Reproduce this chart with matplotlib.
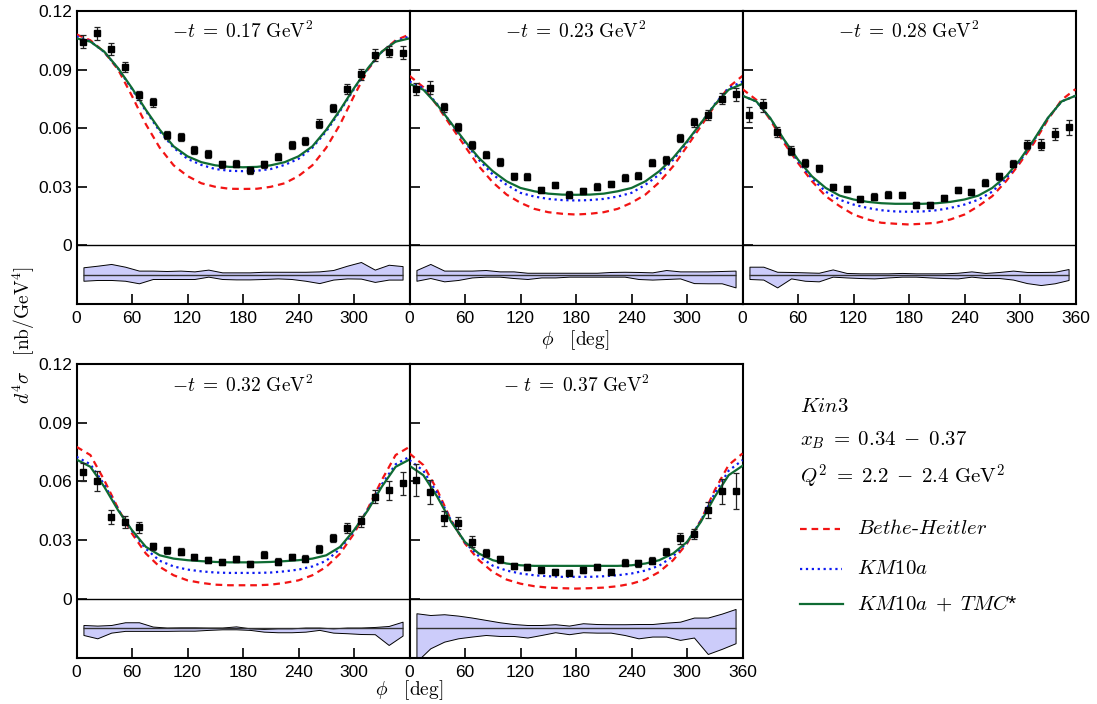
import matplotlib
matplotlib.use("Agg")
import matplotlib.pyplot as plt
import numpy as np

plt.rcParams['mathtext.fontset'] = 'cm'
plt.rcParams['font.family'] = ['Liberation Sans', 'DejaVu Sans']

RED = (0.95, 0.08, 0.08)  # Bethe-Heitler
BLUE = (0.05, 0.1, 0.95)  # KM10a
GREEN = (0.06, 0.42, 0.2)  # KM10a + TMC
BAND = (0.8, 0.8, 0.98)  # systematic band

PHI_DATA = np.arange(7.5, 360, 15)
PHI_CURVE = np.arange(0, 361, 15)
BAND_CENTER = -0.015

T_LABELS = [r"$-t\;=\;0.17\ \mathrm{GeV}^2$", r"$-t\;=\;0.23\ \mathrm{GeV}^2$",
            r"$-t\;=\;0.28\ \mathrm{GeV}^2$", r"$-t\;=\;0.32\ \mathrm{GeV}^2$",
            r"$-\ t\;=\;0.37\ \mathrm{GeV}^2$"]

'''Measured cross sections'''
DATA1 = [0.1043, 0.1086, 0.1004, 0.0912, 0.0768, 0.0732, 0.0567, 0.0557, 0.0490, 0.0470, 0.0415, 0.0419,
         0.0385, 0.0415, 0.0454, 0.0512, 0.0534, 0.0623, 0.0703, 0.0802, 0.0875, 0.0975, 0.0992, 0.0987]
DATA2 = [0.0802, 0.0807, 0.0706, 0.0606, 0.0512, 0.0465, 0.0427, 0.0354, 0.0351, 0.0283, 0.0310, 0.0259,
         0.0278, 0.0300, 0.0315, 0.0346, 0.0357, 0.0424, 0.0437, 0.0548, 0.0630, 0.0669, 0.0752, 0.0773]
DATA3 = [0.0669, 0.0718, 0.0582, 0.0485, 0.0422, 0.0396, 0.0299, 0.0289, 0.0238, 0.0250, 0.0260, 0.0259,
         0.0208, 0.0208, 0.0243, 0.0284, 0.0274, 0.0320, 0.0354, 0.0419, 0.0516, 0.0516, 0.0570, 0.0604]
DATA4 = [0.0646, 0.0602, 0.0419, 0.0392, 0.0365, 0.0268, 0.0249, 0.0240, 0.0216, 0.0199, 0.0187, 0.0203,
         0.0179, 0.0227, 0.0191, 0.0215, 0.0206, 0.0254, 0.0312, 0.0363, 0.0397, 0.0523, 0.0554, 0.0590]
DATA5 = [0.0607, 0.0547, 0.0411, 0.0387, 0.0293, 0.0235, 0.0203, 0.0167, 0.0164, 0.0147, 0.0138, 0.0135,
         0.0148, 0.0165, 0.0140, 0.0186, 0.0182, 0.0196, 0.0242, 0.0309, 0.0331, 0.0453, 0.0551, 0.0552]

ERR1 = [0.0034, 0.0034, 0.003, 0.0025, 0.0025, 0.0022, 0.002, 0.002, 0.002, 0.002, 0.0018, 0.0018,
        0.0018, 0.0018, 0.0018, 0.002, 0.002, 0.0022, 0.0022, 0.0025, 0.0028, 0.003, 0.003, 0.0032]
ERR2 = [0.003, 0.0034, 0.0025, 0.0022, 0.002, 0.0018, 0.0018, 0.0018, 0.0018, 0.0017, 0.0017, 0.0017,
        0.0017, 0.0017, 0.0017, 0.0018, 0.0018, 0.0018, 0.002, 0.002, 0.0022, 0.0025, 0.003, 0.0034]
ERR3 = [0.0039, 0.0034, 0.0025, 0.0022, 0.002, 0.0018, 0.0017, 0.0017, 0.0016, 0.0016, 0.0016, 0.0016,
        0.0016, 0.0016, 0.0016, 0.0016, 0.0017, 0.0018, 0.0018, 0.002, 0.0025, 0.0028, 0.003, 0.004]
ERR4 = [0.0046, 0.0049, 0.0034, 0.003, 0.003, 0.002, 0.0018, 0.0018, 0.0016, 0.0015, 0.0015, 0.0015,
        0.0015, 0.0017, 0.0016, 0.0016, 0.0017, 0.002, 0.002, 0.0025, 0.0028, 0.0034, 0.005, 0.0057]
ERR5 = [0.008, 0.0061, 0.004, 0.0032, 0.0028, 0.0022, 0.0018, 0.0016, 0.0016, 0.0015, 0.0015, 0.0015,
        0.0015, 0.0015, 0.0015, 0.0016, 0.0017, 0.0018, 0.002, 0.0026, 0.0026, 0.004, 0.0064, 0.009]

'''Systematic bands (upper / lower edge)'''
BAND_UP1 = [-0.0112, -0.0104, -0.0095, -0.0109, -0.0129, -0.0129, -0.0131, -0.0129, -0.0133, -0.0124, -0.0138, -0.0138,
            -0.0138, -0.0135, -0.0135, -0.0135, -0.0135, -0.0133, -0.0126, -0.0104, -0.0085, -0.0124, -0.0099, -0.0106]
BAND_LO1 = [-0.0181, -0.0177, -0.0177, -0.0181, -0.0194, -0.0172, -0.0172, -0.0172, -0.0172, -0.0160, -0.0172, -0.0174,
            -0.0174, -0.0172, -0.0169, -0.0172, -0.0181, -0.0193, -0.0175, -0.0169, -0.0170, -0.0187, -0.0175, -0.0175]
BAND_UP2 = [-0.0126, -0.0095, -0.0129, -0.0129, -0.0129, -0.0126, -0.0133, -0.0133, -0.0140, -0.0140, -0.0140, -0.0140,
            -0.0140, -0.0140, -0.0136, -0.0135, -0.0136, -0.0138, -0.0126, -0.0133, -0.0133, -0.0133, -0.0131, -0.0129]
BAND_LO2 = [-0.0181, -0.0167, -0.0184, -0.0177, -0.0164, -0.0160, -0.0160, -0.0167, -0.0172, -0.0164, -0.0164, -0.0160,
            -0.0160, -0.0160, -0.0160, -0.0160, -0.0172, -0.0175, -0.0172, -0.0169, -0.0193, -0.0194, -0.0194, -0.0215]
BAND_UP3 = [-0.0109, -0.0109, -0.0135, -0.0136, -0.0138, -0.0140, -0.0123, -0.0141, -0.0143, -0.0143, -0.0143, -0.0141,
            -0.0143, -0.0143, -0.0143, -0.0140, -0.0133, -0.0141, -0.0136, -0.0129, -0.0136, -0.0136, -0.0135, -0.0121]
BAND_LO3 = [-0.0172, -0.0175, -0.0215, -0.0169, -0.0181, -0.0184, -0.0160, -0.0164, -0.0167, -0.0169, -0.0164, -0.0160,
            -0.0160, -0.0164, -0.0167, -0.0169, -0.0160, -0.0167, -0.0167, -0.0175, -0.0193, -0.0203, -0.0194, -0.0177]
BAND_UP4 = [-0.0133, -0.0136, -0.0133, -0.0119, -0.0119, -0.0141, -0.0146, -0.0145, -0.0145, -0.0146, -0.0146, -0.0140,
            -0.0150, -0.0153, -0.0150, -0.0150, -0.0146, -0.0146, -0.0150, -0.0146, -0.0146, -0.0143, -0.0138, -0.0116]
BAND_LO4 = [-0.0184, -0.0201, -0.0172, -0.0163, -0.0163, -0.0163, -0.0163, -0.0162, -0.0162, -0.0158, -0.0155, -0.0155,
            -0.0158, -0.0167, -0.0170, -0.0170, -0.0167, -0.0158, -0.0172, -0.0175, -0.0179, -0.0180, -0.0235, -0.0187]
BAND_UP5 = [-0.0073, -0.0082, -0.0078, -0.0085, -0.0095, -0.0107, -0.0119, -0.0128, -0.0133, -0.0133, -0.0129, -0.0136,
            -0.0124, -0.0128, -0.0129, -0.0129, -0.0128, -0.0128, -0.0121, -0.0116, -0.0095, -0.0095, -0.0075, -0.0051]
BAND_LO5 = [-0.0320, -0.0252, -0.0218, -0.0201, -0.0192, -0.0184, -0.0189, -0.0189, -0.0197, -0.0184, -0.0170, -0.0180,
            -0.0170, -0.0172, -0.0172, -0.0184, -0.0201, -0.0192, -0.0192, -0.0209, -0.0197, -0.0281, -0.0255, -0.0226]

'''Model curves every 15 deg'''
BH1 = [0.108, 0.105, 0.099, 0.090, 0.0765, 0.062, 0.050, 0.041, 0.0355, 0.0318, 0.030, 0.029, 0.0289,
       0.029, 0.030, 0.0318, 0.0355, 0.041, 0.050, 0.062, 0.0765, 0.090, 0.099, 0.105, 0.108]
KM1 = [0.107, 0.1045, 0.099, 0.0905, 0.080, 0.0688, 0.0584, 0.050, 0.0443, 0.0412, 0.0391, 0.0382, 0.038,
       0.0382, 0.0391, 0.0412, 0.0443, 0.050, 0.0584, 0.0688, 0.080, 0.0905, 0.099, 0.1045, 0.107]
TMC1 = [0.106, 0.1043, 0.0992, 0.0907, 0.0805, 0.0694, 0.0592, 0.0507, 0.0456, 0.0426, 0.041, 0.0402, 0.040,
        0.0402, 0.041, 0.0426, 0.0456, 0.0507, 0.0592, 0.0694, 0.0805, 0.0907, 0.0992, 0.1043, 0.106]
BH2 = [0.0868, 0.081, 0.0715, 0.061, 0.0507, 0.0405, 0.0323, 0.026, 0.0218, 0.0187, 0.017, 0.0162, 0.0158,
       0.0162, 0.017, 0.0187, 0.0218, 0.026, 0.0323, 0.0405, 0.0507, 0.061, 0.0715, 0.081, 0.0868]
KM2 = [0.0839, 0.0805, 0.0723, 0.0625, 0.0527, 0.0438, 0.0363, 0.031, 0.0269, 0.025, 0.0238, 0.0232, 0.023,
       0.0232, 0.0238, 0.025, 0.0269, 0.031, 0.0363, 0.0438, 0.0527, 0.0625, 0.0723, 0.0805, 0.0839]
TMC2 = [0.0827, 0.0797, 0.072, 0.0626, 0.0533, 0.0448, 0.038, 0.0328, 0.0294, 0.0277, 0.0265, 0.026, 0.0259,
        0.026, 0.0265, 0.0277, 0.0294, 0.0328, 0.038, 0.0448, 0.0533, 0.0626, 0.072, 0.0797, 0.0827]
BH3 = [0.080, 0.0745, 0.0643, 0.0524, 0.0422, 0.0329, 0.0252, 0.0201, 0.0158, 0.0133, 0.0116, 0.0111, 0.0107,
       0.0111, 0.0116, 0.0133, 0.0158, 0.0201, 0.0252, 0.0329, 0.0422, 0.0524, 0.0643, 0.0745, 0.080]
KM3 = [0.0766, 0.0737, 0.065, 0.0537, 0.0432, 0.0343, 0.0275, 0.0234, 0.0209, 0.0192, 0.018, 0.0174, 0.0172,
       0.0174, 0.018, 0.0192, 0.0209, 0.0234, 0.0275, 0.0343, 0.0432, 0.0537, 0.065, 0.0737, 0.0766]
TMC3 = [0.0766, 0.0737, 0.0652, 0.0541, 0.0439, 0.0354, 0.0294, 0.0255, 0.0235, 0.0223, 0.0216, 0.0213, 0.0213,
        0.0213, 0.0216, 0.0223, 0.0235, 0.0255, 0.0294, 0.0354, 0.0439, 0.0541, 0.0652, 0.0737, 0.0766]
BH4 = [0.0777, 0.0735, 0.0607, 0.0462, 0.0334, 0.0232, 0.0164, 0.0121, 0.0095, 0.0082, 0.0073, 0.007, 0.007,
       0.007, 0.0073, 0.0082, 0.0095, 0.0121, 0.0164, 0.0232, 0.0334, 0.0462, 0.0607, 0.0735, 0.0777]
KM4 = [0.0726, 0.0688, 0.0585, 0.0458, 0.0347, 0.0256, 0.0195, 0.0166, 0.015, 0.0141, 0.0135, 0.0133, 0.0133,
       0.0133, 0.0135, 0.0141, 0.015, 0.0166, 0.0195, 0.0256, 0.0347, 0.0458, 0.0585, 0.0688, 0.0726]
TMC4 = [0.0712, 0.0675, 0.0573, 0.0453, 0.0351, 0.0266, 0.0223, 0.0206, 0.0198, 0.0193, 0.0189, 0.0187, 0.0187,
        0.0187, 0.0189, 0.0193, 0.0198, 0.0206, 0.0223, 0.0266, 0.0351, 0.0453, 0.0573, 0.0675, 0.0712]
BH5 = [0.0743, 0.0684, 0.0556, 0.0402, 0.0283, 0.0198, 0.0138, 0.0099, 0.0078, 0.0065, 0.0058, 0.0055, 0.0053,
       0.0055, 0.0058, 0.0065, 0.0078, 0.0099, 0.0138, 0.0198, 0.0283, 0.0402, 0.0556, 0.0684, 0.0743]
KM5 = [0.0709, 0.0655, 0.054, 0.040, 0.0288, 0.0218, 0.017, 0.0145, 0.013, 0.0121, 0.0116, 0.0113, 0.0113,
       0.0113, 0.0116, 0.0121, 0.013, 0.0145, 0.017, 0.0218, 0.0288, 0.040, 0.054, 0.0655, 0.0709]
TMC5 = [0.068, 0.0632, 0.0522, 0.0394, 0.0291, 0.0232, 0.0198, 0.0181, 0.0172, 0.0169, 0.0169, 0.0169, 0.0169,
        0.0169, 0.0169, 0.0169, 0.0172, 0.0181, 0.0198, 0.0232, 0.0291, 0.0394, 0.0522, 0.0632, 0.068]

PANELS = [
    (DATA1, ERR1, BAND_UP1, BAND_LO1, BH1, KM1, TMC1),
    (DATA2, ERR2, BAND_UP2, BAND_LO2, BH2, KM2, TMC2),
    (DATA3, ERR3, BAND_UP3, BAND_LO3, BH3, KM3, TMC3),
    (DATA4, ERR4, BAND_UP4, BAND_LO4, BH4, KM4, TMC4),
    (DATA5, ERR5, BAND_UP5, BAND_LO5, BH5, KM5, TMC5),
]

W, H = 1097, 704
# axes boxes in pixels: left, top, right, bottom
BOXES = [(76.5, 11, 409.5, 304), (409.5, 11, 742.5, 304), (742.5, 11, 1075.5, 304),
         (76.5, 364, 409.5, 657.7), (409.5, 364, 742.5, 657.7)]

X_TICKS = [0, 60, 120, 180, 240, 300, 360]
Y_TICKS = [0, 0.03, 0.06, 0.09, 0.12]
Y_TICKLABELS = ['0', '0.03', '0.06', '0.09', '0.12']


def draw_panel(ax, i):
    data, err, up, lo, bh, km, tmc = PANELS[i]

    ax.fill_between(PHI_DATA, lo, up, facecolor=BAND, edgecolor='black', linewidth=0.7, zorder=1)
    ax.hlines(BAND_CENTER, PHI_DATA[0], PHI_DATA[-1], color='#333333', linewidth=1.0, zorder=2)
    ax.axhline(0, color='black', linewidth=1.0, zorder=2)

    ax.plot(PHI_CURVE, bh, color=RED, linewidth=1.6, dashes=(3, 2.2), zorder=3)
    ax.plot(PHI_CURVE, km, color=BLUE, linewidth=1.6, linestyle=':', zorder=3)
    ax.plot(PHI_CURVE, tmc, color=GREEN, linewidth=1.6, zorder=4)

    ax.errorbar(PHI_DATA, data, yerr=err, fmt='s', color='black', ecolor='#222222',
                markersize=5, elinewidth=0.9, capsize=2.5, capthick=0.9, zorder=5)

    ax.text(0.5, 0.965, T_LABELS[i], transform=ax.transAxes, ha='center', va='top', fontsize=14)

    ax.set_xlim(0, 360)
    ax.set_ylim(-0.03, 0.12)
    ax.set_xticks(X_TICKS)
    if i in (2, 4):
        ax.set_xticklabels([str(t) for t in X_TICKS])
    else:
        ax.set_xticklabels([str(t) for t in X_TICKS[:-1]] + [''])
    ax.set_yticks(Y_TICKS)
    if i in (0, 3):
        ax.set_yticklabels(Y_TICKLABELS)
    else:
        ax.set_yticklabels([])
    ax.tick_params(direction='in', length=7, width=1.2, top=False, right=False, labelsize=12.5)
    ax.tick_params(axis='y', pad=3)
    ax.tick_params(axis='x', pad=5)
    for s in ax.spines.values():
        s.set_linewidth(1.5)


def main():
    fig = plt.figure(figsize=(W / 100, H / 100), dpi=100)

    for i, (l, t, r, b) in enumerate(BOXES):
        ax = fig.add_axes([l / W, 1 - b / H, (r - l) / W, (b - t) / H])
        draw_panel(ax, i)

    fig.text(24 / W, 1 - 335 / H, r"$d^4\sigma\ \ \ [\mathrm{nb/GeV}^4]$", rotation=90,
             ha='center', va='center', fontsize=14)
    fig.text(575 / W, 1 - 340 / H, r"$\phi\ \ \ [\mathrm{deg}]$", ha='center', va='center', fontsize=14)
    fig.text(409 / W, 1 - 690 / H, r"$\phi\ \ \ [\mathrm{deg}]$", ha='center', va='center', fontsize=14)

    '''Legend area in pixel coordinates'''
    lg = fig.add_axes([0, 0, 1, 1])
    lg.set_xlim(0, W)
    lg.set_ylim(H, 0)
    lg.axis('off')
    lg.patch.set_alpha(0)

    lg.text(800, 407, r"$\mathit{Kin3}$", ha='left', va='center', fontsize=15)
    lg.text(800, 440, r"$x_B\;=\;0.34\;-\;0.37$", ha='left', va='center', fontsize=15)
    lg.text(800, 477, r"$Q^2\;=\;2.2\;-\;2.4\ \mathrm{GeV}^2$", ha='left', va='center', fontsize=15)

    lg.plot([800, 840], [529, 529], color=RED, linewidth=1.6, dashes=(3, 2.2))
    lg.plot([800, 842], [569, 569], color=BLUE, linewidth=1.6, linestyle=':')
    lg.plot([800, 843], [604, 604], color=GREEN, linewidth=1.6)
    lg.text(857, 529, r"$\mathit{Bethe\text{-}Heitler}$", ha='left', va='center', fontsize=15)
    lg.text(857, 569, r"$\mathit{KM10a}$", ha='left', va='center', fontsize=15)
    lg.text(857, 604, r"$\mathit{KM10a}\;+\;\mathit{TMC}$*", ha='left', va='center', fontsize=15)

    fig.savefig('out.png', dpi=100)


if __name__ == '__main__':
    main()
